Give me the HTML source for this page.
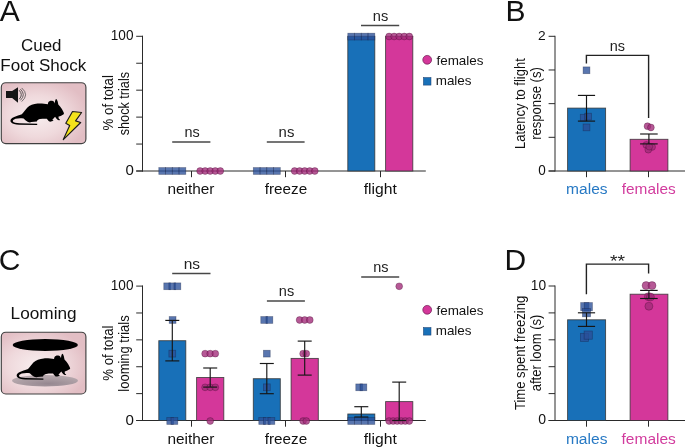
<!DOCTYPE html>
<html><head><meta charset="utf-8"><title>Figure</title>
<style>
html,body{margin:0;padding:0;background:#fff;}
body{width:685px;height:447px;overflow:hidden;}
svg{display:block;font-family:"Liberation Sans", sans-serif;will-change:transform;}
</style></head>
<body>
<svg width="685" height="447" viewBox="0 0 685 447" font-family="Liberation Sans, sans-serif">
<rect width="685" height="447" fill="#fff"/>
<text x="-0.3" y="20.9" font-size="30" text-anchor="start" fill="#111" >A</text>
<text x="505.5" y="20.8" font-size="30" text-anchor="start" fill="#111" >B</text>
<text x="-1.3" y="270.3" font-size="30" text-anchor="start" fill="#111" >C</text>
<text x="504.4" y="270.3" font-size="30" text-anchor="start" fill="#111" >D</text>
<text x="21.05" y="50.6" font-size="16" fill="#111" textLength="40.45" lengthAdjust="spacingAndGlyphs">Cued</text>
<text x="0.3" y="70.7" font-size="16" fill="#111" textLength="85.96" lengthAdjust="spacingAndGlyphs">Foot Shock</text>
<text x="10.6" y="319.1" font-size="16" fill="#111" textLength="66.0" lengthAdjust="spacingAndGlyphs">Looming</text>
<defs><radialGradient id="gA" cx="0.42" cy="0.55" r="0.62"><stop offset="0" stop-color="#f8eeef"/><stop offset="0.55" stop-color="#efd9dc"/><stop offset="1" stop-color="#e2bec4"/></radialGradient><radialGradient id="gS" cx="0.55" cy="0.75" r="0.6"><stop offset="0" stop-color="#958790"/><stop offset="1" stop-color="#b4a6ab"/></radialGradient></defs>
<rect x="1.3" y="82.7" width="84.6" height="60.90" rx="4.5" fill="url(#gA)" stroke="#404040" stroke-width="1.15"/>
<path d="M6 91.1 H12.1 L18 87.2 V102.7 L12.1 98 H6 Z" fill="#151515"/>
<path d="M19.2 90.25 Q23.40 94.75 19.2 99.25" fill="none" stroke="#3a3a3a" stroke-opacity="0.95" stroke-width="0.9"/>
<path d="M20.4 89.15 Q26.20 94.75 20.4 100.35" fill="none" stroke="#3a3a3a" stroke-opacity="0.85" stroke-width="0.9"/>
<path d="M21.7 87.95 Q29.50 94.75 21.7 101.55" fill="none" stroke="#3a3a3a" stroke-opacity="0.75" stroke-width="0.9"/>
<path d="M63.9 113.1 C63.1 110.8 61.2 107.8 58.3 104.6 L57.7 101.6 C57.3 100.1 56.7 99 56 98.9 C55.3 99.6 54.9 101.5 54.8 103.4 C54.4 102 53.4 101 52 100.8 C50.4 100.6 48.7 101.3 48.2 102.5 C48 103.1 48 103.7 47.8 104.2 C45 103.7 41 103.4 37.5 103.6 C33.5 103.9 29.6 105.4 27.2 107.8 C25.6 109.5 24 112 21.8 114.2 C19.4 115.2 15.4 116.3 12.6 117.8 C10.6 118.9 10 120.8 10.8 122 C12 123.8 15.5 124.6 19 124.7 L37.2 124.9 L37.2 123.7 L19.5 123.3 C16.2 123.1 13.6 122.6 12.9 121.5 C12.5 120.6 13.4 119.6 15.5 118.8 C18 118.1 21 118 23.6 118.5 C25 120 26.4 121.3 28 122 C29.2 122.6 30.6 122.5 31.3 122.1 L36.9 121.6 L37 121 C37.6 120.2 38.6 119.4 40 119.1 C42.5 118.7 45 118.6 46.8 118.8 C47.6 119.6 48.4 121 49.4 121.6 C50.4 122.1 52.4 121.3 53.6 120.6 C53.4 120.2 52.8 120 52.2 120 C53.2 119 54.3 117.8 55.1 116.8 C55.6 117.6 56.2 118.5 57 119.3 C57.8 120.2 59 120.5 59.9 120.1 C60.2 119.7 59.8 119.3 59.1 119.1 C58.6 118.6 58.4 117.6 58.6 116.6 C60.3 116.1 62.2 115.2 63.4 114.4 C63.9 114 64.1 113.6 63.9 113.1 Z" fill="#000"/>
<path d="M72.5 111.5 L81.6 112.5 L75.6 120.9 L80.7 122.5 L63.3 139.6 L69.7 125.6 L65.8 123.3 Z" fill="#f4e21c" stroke="#1a1a1a" stroke-width="1.15" stroke-linejoin="round"/>
<rect x="1.3" y="332.2" width="84.6" height="61.80" rx="4.5" fill="url(#gA)" stroke="#404040" stroke-width="1.15"/>
<ellipse cx="45" cy="380.8" rx="33" ry="5.7" fill="url(#gS)"/>
<ellipse cx="45.3" cy="345" rx="32.6" ry="5.9" fill="#000"/>
<path d="M63.9 113.1 C63.1 110.8 61.2 107.8 58.3 104.6 L57.7 101.6 C57.3 100.1 56.7 99 56 98.9 C55.3 99.6 54.9 101.5 54.8 103.4 C54.4 102 53.4 101 52 100.8 C50.4 100.6 48.7 101.3 48.2 102.5 C48 103.1 48 103.7 47.8 104.2 C45 103.7 41 103.4 37.5 103.6 C33.5 103.9 29.6 105.4 27.2 107.8 C25.6 109.5 24 112 21.8 114.2 C19.4 115.2 15.4 116.3 12.6 117.8 C10.6 118.9 10 120.8 10.8 122 C12 123.8 15.5 124.6 19 124.7 L37.2 124.9 L37.2 123.7 L19.5 123.3 C16.2 123.1 13.6 122.6 12.9 121.5 C12.5 120.6 13.4 119.6 15.5 118.8 C18 118.1 21 118 23.6 118.5 C25 120 26.4 121.3 28 122 C29.2 122.6 30.6 122.5 31.3 122.1 L36.9 121.6 L37 121 C37.6 120.2 38.6 119.4 40 119.1 C42.5 118.7 45 118.6 46.8 118.8 C47.6 119.6 48.4 121 49.4 121.6 C50.4 122.1 52.4 121.3 53.6 120.6 C53.4 120.2 52.8 120 52.2 120 C53.2 119 54.3 117.8 55.1 116.8 C55.6 117.6 56.2 118.5 57 119.3 C57.8 120.2 59 120.5 59.9 120.1 C60.2 119.7 59.8 119.3 59.1 119.1 C58.6 118.6 58.4 117.6 58.6 116.6 C60.3 116.1 62.2 115.2 63.4 114.4 C63.9 114 64.1 113.6 63.9 113.1 Z" fill="#000" transform="translate(6.2 254.8)"/>
<line x1="142.5" y1="35.8" x2="142.5" y2="171.5" stroke="#2a2a2a" stroke-width="1.0"/>
<line x1="136.2" y1="36.3" x2="143" y2="36.3" stroke="#2a2a2a" stroke-width="1.0"/>
<line x1="136.2" y1="63.239999999999995" x2="143" y2="63.239999999999995" stroke="#2a2a2a" stroke-width="1.0"/>
<line x1="136.2" y1="90.17999999999999" x2="143" y2="90.17999999999999" stroke="#2a2a2a" stroke-width="1.0"/>
<line x1="136.2" y1="117.11999999999999" x2="143" y2="117.11999999999999" stroke="#2a2a2a" stroke-width="1.0"/>
<line x1="136.2" y1="144.06" x2="143" y2="144.06" stroke="#2a2a2a" stroke-width="1.0"/>
<line x1="136.2" y1="171.0" x2="143" y2="171.0" stroke="#2a2a2a" stroke-width="1.0"/>
<line x1="136.2" y1="171" x2="425.8" y2="171" stroke="#2a2a2a" stroke-width="1.0"/>
<line x1="191.5" y1="171" x2="191.5" y2="177.2" stroke="#2a2a2a" stroke-width="1.0"/>
<line x1="285.5" y1="171" x2="285.5" y2="177.2" stroke="#2a2a2a" stroke-width="1.0"/>
<line x1="380.5" y1="171" x2="380.5" y2="177.2" stroke="#2a2a2a" stroke-width="1.0"/>
<text x="110.8" y="39.95" font-size="13.85" fill="#111" textLength="22.73" lengthAdjust="spacingAndGlyphs">100</text>
<text x="125.5" y="175.25" font-size="14.34" fill="#111" textLength="8.37" lengthAdjust="spacingAndGlyphs">0</text>
<text transform="translate(112.6 130.4) rotate(-90)" font-size="14.8" fill="#111" textLength="55.24" lengthAdjust="spacingAndGlyphs">% of total</text>
<text transform="translate(129.0 135.3) rotate(-90)" font-size="14.8" fill="#111" textLength="63.37" lengthAdjust="spacingAndGlyphs">shock trials</text>
<text x="167.4" y="194.2" font-size="15" fill="#111" textLength="47.05" lengthAdjust="spacingAndGlyphs">neither</text>
<text x="264.75" y="194.2" font-size="15" fill="#111" textLength="42.47" lengthAdjust="spacingAndGlyphs">freeze</text>
<text x="363.75" y="194.2" font-size="15" fill="#111" textLength="33.16" lengthAdjust="spacingAndGlyphs">flight</text>
<rect x="158.80" y="167.60" width="6.8" height="6.8" fill="#2a4f98" fill-opacity="0.78" stroke="#142040" stroke-opacity="0.45" stroke-width="0.7"/>
<rect x="165.53" y="167.60" width="6.8" height="6.8" fill="#2a4f98" fill-opacity="0.78" stroke="#142040" stroke-opacity="0.45" stroke-width="0.7"/>
<rect x="172.27" y="167.60" width="6.8" height="6.8" fill="#2a4f98" fill-opacity="0.78" stroke="#142040" stroke-opacity="0.45" stroke-width="0.7"/>
<rect x="179.00" y="167.60" width="6.8" height="6.8" fill="#2a4f98" fill-opacity="0.78" stroke="#142040" stroke-opacity="0.45" stroke-width="0.7"/>
<circle cx="200.10" cy="171.00" r="3.4" fill="#a22a78" fill-opacity="0.78" stroke="#400a2c" stroke-opacity="0.45" stroke-width="0.7"/>
<circle cx="205.15" cy="171.00" r="3.4" fill="#a22a78" fill-opacity="0.78" stroke="#400a2c" stroke-opacity="0.45" stroke-width="0.7"/>
<circle cx="210.20" cy="171.00" r="3.4" fill="#a22a78" fill-opacity="0.78" stroke="#400a2c" stroke-opacity="0.45" stroke-width="0.7"/>
<circle cx="215.25" cy="171.00" r="3.4" fill="#a22a78" fill-opacity="0.78" stroke="#400a2c" stroke-opacity="0.45" stroke-width="0.7"/>
<circle cx="220.30" cy="171.00" r="3.4" fill="#a22a78" fill-opacity="0.78" stroke="#400a2c" stroke-opacity="0.45" stroke-width="0.7"/>
<rect x="253.30" y="167.60" width="6.8" height="6.8" fill="#2a4f98" fill-opacity="0.78" stroke="#142040" stroke-opacity="0.45" stroke-width="0.7"/>
<rect x="260.03" y="167.60" width="6.8" height="6.8" fill="#2a4f98" fill-opacity="0.78" stroke="#142040" stroke-opacity="0.45" stroke-width="0.7"/>
<rect x="266.77" y="167.60" width="6.8" height="6.8" fill="#2a4f98" fill-opacity="0.78" stroke="#142040" stroke-opacity="0.45" stroke-width="0.7"/>
<rect x="273.50" y="167.60" width="6.8" height="6.8" fill="#2a4f98" fill-opacity="0.78" stroke="#142040" stroke-opacity="0.45" stroke-width="0.7"/>
<circle cx="294.60" cy="171.00" r="3.4" fill="#a22a78" fill-opacity="0.78" stroke="#400a2c" stroke-opacity="0.45" stroke-width="0.7"/>
<circle cx="299.65" cy="171.00" r="3.4" fill="#a22a78" fill-opacity="0.78" stroke="#400a2c" stroke-opacity="0.45" stroke-width="0.7"/>
<circle cx="304.70" cy="171.00" r="3.4" fill="#a22a78" fill-opacity="0.78" stroke="#400a2c" stroke-opacity="0.45" stroke-width="0.7"/>
<circle cx="309.75" cy="171.00" r="3.4" fill="#a22a78" fill-opacity="0.78" stroke="#400a2c" stroke-opacity="0.45" stroke-width="0.7"/>
<circle cx="314.80" cy="171.00" r="3.4" fill="#a22a78" fill-opacity="0.78" stroke="#400a2c" stroke-opacity="0.45" stroke-width="0.7"/>
<rect x="347.8" y="36.3" width="27.00" height="134.70" fill="#1870b8" stroke="#333" stroke-opacity="0.85" stroke-width="0.9"/>
<rect x="385.59999999999997" y="36.3" width="27.20" height="134.70" fill="#d4379a" stroke="#333" stroke-opacity="0.85" stroke-width="0.9"/>
<rect x="347.80" y="33.20" width="6.8" height="6.8" fill="#2a4f98" fill-opacity="0.78" stroke="#142040" stroke-opacity="0.45" stroke-width="0.7"/>
<rect x="354.53" y="33.20" width="6.8" height="6.8" fill="#2a4f98" fill-opacity="0.78" stroke="#142040" stroke-opacity="0.45" stroke-width="0.7"/>
<rect x="361.27" y="33.20" width="6.8" height="6.8" fill="#2a4f98" fill-opacity="0.78" stroke="#142040" stroke-opacity="0.45" stroke-width="0.7"/>
<rect x="368.00" y="33.20" width="6.8" height="6.8" fill="#2a4f98" fill-opacity="0.78" stroke="#142040" stroke-opacity="0.45" stroke-width="0.7"/>
<circle cx="389.10" cy="36.50" r="3.4" fill="#a22a78" fill-opacity="0.78" stroke="#400a2c" stroke-opacity="0.45" stroke-width="0.7"/>
<circle cx="394.15" cy="36.50" r="3.4" fill="#a22a78" fill-opacity="0.78" stroke="#400a2c" stroke-opacity="0.45" stroke-width="0.7"/>
<circle cx="399.20" cy="36.50" r="3.4" fill="#a22a78" fill-opacity="0.78" stroke="#400a2c" stroke-opacity="0.45" stroke-width="0.7"/>
<circle cx="404.25" cy="36.50" r="3.4" fill="#a22a78" fill-opacity="0.78" stroke="#400a2c" stroke-opacity="0.45" stroke-width="0.7"/>
<circle cx="409.30" cy="36.50" r="3.4" fill="#a22a78" fill-opacity="0.78" stroke="#400a2c" stroke-opacity="0.45" stroke-width="0.7"/>
<line x1="172.2" y1="142" x2="210.4" y2="142" stroke="#474747" stroke-width="1.5"/>
<text x="184.4" y="137.35" font-size="13.79" fill="#222" textLength="15.24" lengthAdjust="spacingAndGlyphs">ns</text>
<line x1="266.8" y1="142" x2="304.6" y2="142" stroke="#474747" stroke-width="1.5"/>
<text x="278.6" y="137.35" font-size="13.79" fill="#222" textLength="15.74" lengthAdjust="spacingAndGlyphs">ns</text>
<line x1="361" y1="25.4" x2="399.2" y2="25.4" stroke="#474747" stroke-width="1.5"/>
<text x="372.8" y="20.55" font-size="13.79" fill="#222" textLength="15.41" lengthAdjust="spacingAndGlyphs">ns</text>
<circle cx="427.2" cy="59.8" r="4.4" fill="#d4379a" stroke="#6a1a50" stroke-width="0.7"/>
<rect x="423.4" y="77.5" width="7.6" height="7.6" fill="#1870b8" stroke="#1a3a6a" stroke-width="0.5"/>
<text x="436.45" y="64.6" font-size="13.2" fill="#111" textLength="47.1" lengthAdjust="spacingAndGlyphs">females</text>
<text x="435.7" y="85.2" font-size="13.2" fill="#111" textLength="35.87" lengthAdjust="spacingAndGlyphs">males</text>
<line x1="142.5" y1="285.6" x2="142.5" y2="421.0" stroke="#2a2a2a" stroke-width="1.0"/>
<line x1="136.2" y1="286.1" x2="143" y2="286.1" stroke="#2a2a2a" stroke-width="1.0"/>
<line x1="136.2" y1="312.98" x2="143" y2="312.98" stroke="#2a2a2a" stroke-width="1.0"/>
<line x1="136.2" y1="339.86" x2="143" y2="339.86" stroke="#2a2a2a" stroke-width="1.0"/>
<line x1="136.2" y1="366.74" x2="143" y2="366.74" stroke="#2a2a2a" stroke-width="1.0"/>
<line x1="136.2" y1="393.62" x2="143" y2="393.62" stroke="#2a2a2a" stroke-width="1.0"/>
<line x1="136.2" y1="420.5" x2="143" y2="420.5" stroke="#2a2a2a" stroke-width="1.0"/>
<line x1="136.2" y1="420.5" x2="425.8" y2="420.5" stroke="#2a2a2a" stroke-width="1.0"/>
<line x1="191.5" y1="420.5" x2="191.5" y2="426.7" stroke="#2a2a2a" stroke-width="1.0"/>
<line x1="285.5" y1="420.5" x2="285.5" y2="426.7" stroke="#2a2a2a" stroke-width="1.0"/>
<line x1="380.5" y1="420.5" x2="380.5" y2="426.7" stroke="#2a2a2a" stroke-width="1.0"/>
<text x="110.8" y="289.75" font-size="14.34" fill="#111" textLength="22.73" lengthAdjust="spacingAndGlyphs">100</text>
<text x="125.5" y="424.75" font-size="14.4" fill="#111" textLength="8.42" lengthAdjust="spacingAndGlyphs">0</text>
<text transform="translate(112.6 380.8) rotate(-90)" font-size="14.8" fill="#111" textLength="55.24" lengthAdjust="spacingAndGlyphs">% of total</text>
<text transform="translate(129.0 391.65) rotate(-90)" font-size="14.8" fill="#111" textLength="76.29" lengthAdjust="spacingAndGlyphs">looming trials</text>
<text x="167.4" y="443.7" font-size="15" fill="#111" textLength="47.05" lengthAdjust="spacingAndGlyphs">neither</text>
<text x="264.75" y="443.7" font-size="15" fill="#111" textLength="42.47" lengthAdjust="spacingAndGlyphs">freeze</text>
<text x="363.75" y="443.7" font-size="15" fill="#111" textLength="33.16" lengthAdjust="spacingAndGlyphs">flight</text>
<rect x="158.8" y="340.7" width="27.00" height="79.80" fill="#1870b8" stroke="#333" stroke-opacity="0.85" stroke-width="0.9"/>
<rect x="196.6" y="377.5" width="27.20" height="43.00" fill="#d4379a" stroke="#333" stroke-opacity="0.85" stroke-width="0.9"/>
<rect x="163.80" y="282.90" width="6.8" height="6.8" fill="#2a4f98" fill-opacity="0.78" stroke="#142040" stroke-opacity="0.45" stroke-width="0.7"/>
<rect x="168.90" y="282.90" width="6.8" height="6.8" fill="#2a4f98" fill-opacity="0.78" stroke="#142040" stroke-opacity="0.45" stroke-width="0.7"/>
<rect x="174.00" y="282.90" width="6.8" height="6.8" fill="#2a4f98" fill-opacity="0.78" stroke="#142040" stroke-opacity="0.45" stroke-width="0.7"/>
<rect x="169.20" y="316.58" width="6.8" height="6.8" fill="#2a4f98" fill-opacity="0.78" stroke="#142040" stroke-opacity="0.45" stroke-width="0.7"/>
<rect x="168.90" y="350.25" width="6.8" height="6.8" fill="#2a4f98" fill-opacity="0.78" stroke="#142040" stroke-opacity="0.45" stroke-width="0.7"/>
<rect x="166.80" y="417.60" width="6.8" height="6.8" fill="#2a4f98" fill-opacity="0.78" stroke="#142040" stroke-opacity="0.45" stroke-width="0.7"/>
<rect x="171.00" y="417.60" width="6.8" height="6.8" fill="#2a4f98" fill-opacity="0.78" stroke="#142040" stroke-opacity="0.45" stroke-width="0.7"/>
<circle cx="205.10" cy="353.65" r="3.4" fill="#a22a78" fill-opacity="0.78" stroke="#400a2c" stroke-opacity="0.45" stroke-width="0.7"/>
<circle cx="210.20" cy="353.65" r="3.4" fill="#a22a78" fill-opacity="0.78" stroke="#400a2c" stroke-opacity="0.45" stroke-width="0.7"/>
<circle cx="215.30" cy="353.65" r="3.4" fill="#a22a78" fill-opacity="0.78" stroke="#400a2c" stroke-opacity="0.45" stroke-width="0.7"/>
<circle cx="205.10" cy="387.32" r="3.4" fill="#a22a78" fill-opacity="0.78" stroke="#400a2c" stroke-opacity="0.45" stroke-width="0.7"/>
<circle cx="210.20" cy="387.32" r="3.4" fill="#a22a78" fill-opacity="0.78" stroke="#400a2c" stroke-opacity="0.45" stroke-width="0.7"/>
<circle cx="215.30" cy="387.32" r="3.4" fill="#a22a78" fill-opacity="0.78" stroke="#400a2c" stroke-opacity="0.45" stroke-width="0.7"/>
<circle cx="210.20" cy="421.00" r="3.4" fill="#a22a78" fill-opacity="0.78" stroke="#400a2c" stroke-opacity="0.45" stroke-width="0.7"/>
<line x1="172.3" y1="320.4" x2="172.3" y2="360.9" stroke="#161616" stroke-width="1.15"/>
<line x1="165.3" y1="320.4" x2="179.3" y2="320.4" stroke="#161616" stroke-width="1.15"/>
<line x1="165.3" y1="360.9" x2="179.3" y2="360.9" stroke="#161616" stroke-width="1.15"/>
<line x1="210.2" y1="368" x2="210.2" y2="387.1" stroke="#161616" stroke-width="1.15"/>
<line x1="203.2" y1="368" x2="217.2" y2="368" stroke="#161616" stroke-width="1.15"/>
<line x1="203.2" y1="387.1" x2="217.2" y2="387.1" stroke="#161616" stroke-width="1.15"/>
<rect x="253.3" y="378.7" width="27.00" height="41.80" fill="#1870b8" stroke="#333" stroke-opacity="0.85" stroke-width="0.9"/>
<rect x="291.09999999999997" y="358.4" width="27.20" height="62.10" fill="#d4379a" stroke="#333" stroke-opacity="0.85" stroke-width="0.9"/>
<rect x="260.80" y="316.58" width="6.8" height="6.8" fill="#2a4f98" fill-opacity="0.78" stroke="#142040" stroke-opacity="0.45" stroke-width="0.7"/>
<rect x="266.00" y="316.58" width="6.8" height="6.8" fill="#2a4f98" fill-opacity="0.78" stroke="#142040" stroke-opacity="0.45" stroke-width="0.7"/>
<rect x="263.40" y="350.25" width="6.8" height="6.8" fill="#2a4f98" fill-opacity="0.78" stroke="#142040" stroke-opacity="0.45" stroke-width="0.7"/>
<rect x="263.40" y="383.93" width="6.8" height="6.8" fill="#2a4f98" fill-opacity="0.78" stroke="#142040" stroke-opacity="0.45" stroke-width="0.7"/>
<rect x="258.80" y="417.60" width="6.8" height="6.8" fill="#2a4f98" fill-opacity="0.78" stroke="#142040" stroke-opacity="0.45" stroke-width="0.7"/>
<rect x="263.40" y="417.60" width="6.8" height="6.8" fill="#2a4f98" fill-opacity="0.78" stroke="#142040" stroke-opacity="0.45" stroke-width="0.7"/>
<rect x="268.00" y="417.60" width="6.8" height="6.8" fill="#2a4f98" fill-opacity="0.78" stroke="#142040" stroke-opacity="0.45" stroke-width="0.7"/>
<circle cx="299.60" cy="319.98" r="3.4" fill="#a22a78" fill-opacity="0.78" stroke="#400a2c" stroke-opacity="0.45" stroke-width="0.7"/>
<circle cx="304.70" cy="319.98" r="3.4" fill="#a22a78" fill-opacity="0.78" stroke="#400a2c" stroke-opacity="0.45" stroke-width="0.7"/>
<circle cx="309.80" cy="319.98" r="3.4" fill="#a22a78" fill-opacity="0.78" stroke="#400a2c" stroke-opacity="0.45" stroke-width="0.7"/>
<circle cx="303.10" cy="353.65" r="3.4" fill="#a22a78" fill-opacity="0.78" stroke="#400a2c" stroke-opacity="0.45" stroke-width="0.7"/>
<circle cx="306.30" cy="353.65" r="3.4" fill="#a22a78" fill-opacity="0.78" stroke="#400a2c" stroke-opacity="0.45" stroke-width="0.7"/>
<circle cx="303.10" cy="421.00" r="3.4" fill="#a22a78" fill-opacity="0.78" stroke="#400a2c" stroke-opacity="0.45" stroke-width="0.7"/>
<circle cx="306.30" cy="421.00" r="3.4" fill="#a22a78" fill-opacity="0.78" stroke="#400a2c" stroke-opacity="0.45" stroke-width="0.7"/>
<line x1="266.8" y1="363.5" x2="266.8" y2="393.7" stroke="#161616" stroke-width="1.15"/>
<line x1="259.8" y1="363.5" x2="273.8" y2="363.5" stroke="#161616" stroke-width="1.15"/>
<line x1="259.8" y1="393.7" x2="273.8" y2="393.7" stroke="#161616" stroke-width="1.15"/>
<line x1="304.7" y1="341.1" x2="304.7" y2="375.1" stroke="#161616" stroke-width="1.15"/>
<line x1="297.7" y1="341.1" x2="311.7" y2="341.1" stroke="#161616" stroke-width="1.15"/>
<line x1="297.7" y1="375.1" x2="311.7" y2="375.1" stroke="#161616" stroke-width="1.15"/>
<rect x="347.8" y="414.0" width="27.00" height="6.50" fill="#1870b8" stroke="#333" stroke-opacity="0.85" stroke-width="0.9"/>
<rect x="385.59999999999997" y="401.6" width="27.20" height="18.90" fill="#d4379a" stroke="#333" stroke-opacity="0.85" stroke-width="0.9"/>
<rect x="355.80" y="383.93" width="6.8" height="6.8" fill="#2a4f98" fill-opacity="0.78" stroke="#142040" stroke-opacity="0.45" stroke-width="0.7"/>
<rect x="360.00" y="383.93" width="6.8" height="6.8" fill="#2a4f98" fill-opacity="0.78" stroke="#142040" stroke-opacity="0.45" stroke-width="0.7"/>
<rect x="347.80" y="417.60" width="6.8" height="6.8" fill="#2a4f98" fill-opacity="0.78" stroke="#142040" stroke-opacity="0.45" stroke-width="0.7"/>
<rect x="354.53" y="417.60" width="6.8" height="6.8" fill="#2a4f98" fill-opacity="0.78" stroke="#142040" stroke-opacity="0.45" stroke-width="0.7"/>
<rect x="361.27" y="417.60" width="6.8" height="6.8" fill="#2a4f98" fill-opacity="0.78" stroke="#142040" stroke-opacity="0.45" stroke-width="0.7"/>
<rect x="368.00" y="417.60" width="6.8" height="6.8" fill="#2a4f98" fill-opacity="0.78" stroke="#142040" stroke-opacity="0.45" stroke-width="0.7"/>
<circle cx="399.20" cy="286.30" r="3.4" fill="#a22a78" fill-opacity="0.78" stroke="#400a2c" stroke-opacity="0.45" stroke-width="0.7"/>
<circle cx="389.10" cy="421.00" r="3.4" fill="#a22a78" fill-opacity="0.78" stroke="#400a2c" stroke-opacity="0.45" stroke-width="0.7"/>
<circle cx="393.14" cy="421.00" r="3.4" fill="#a22a78" fill-opacity="0.78" stroke="#400a2c" stroke-opacity="0.45" stroke-width="0.7"/>
<circle cx="397.18" cy="421.00" r="3.4" fill="#a22a78" fill-opacity="0.78" stroke="#400a2c" stroke-opacity="0.45" stroke-width="0.7"/>
<circle cx="401.22" cy="421.00" r="3.4" fill="#a22a78" fill-opacity="0.78" stroke="#400a2c" stroke-opacity="0.45" stroke-width="0.7"/>
<circle cx="405.26" cy="421.00" r="3.4" fill="#a22a78" fill-opacity="0.78" stroke="#400a2c" stroke-opacity="0.45" stroke-width="0.7"/>
<circle cx="409.30" cy="421.00" r="3.4" fill="#a22a78" fill-opacity="0.78" stroke="#400a2c" stroke-opacity="0.45" stroke-width="0.7"/>
<line x1="361.3" y1="406.7" x2="361.3" y2="417.0" stroke="#161616" stroke-width="1.15"/>
<line x1="354.3" y1="406.7" x2="368.3" y2="406.7" stroke="#161616" stroke-width="1.15"/>
<line x1="354.3" y1="417.0" x2="368.3" y2="417.0" stroke="#161616" stroke-width="1.15"/>
<line x1="399.2" y1="382.1" x2="399.2" y2="420.5" stroke="#161616" stroke-width="1.15"/>
<line x1="392.2" y1="382.1" x2="406.2" y2="382.1" stroke="#161616" stroke-width="1.15"/>
<line x1="392.2" y1="420.5" x2="406.2" y2="420.5" stroke="#161616" stroke-width="1.15"/>
<line x1="172.2" y1="273.5" x2="210.5" y2="273.5" stroke="#474747" stroke-width="1.5"/>
<text x="183.7" y="268.85" font-size="13.79" fill="#222" textLength="16.36" lengthAdjust="spacingAndGlyphs">ns</text>
<line x1="266.9" y1="301" x2="304.9" y2="301" stroke="#474747" stroke-width="1.5"/>
<text x="278.8" y="296.25" font-size="13.79" fill="#222" textLength="15.35" lengthAdjust="spacingAndGlyphs">ns</text>
<line x1="361.2" y1="277" x2="399.2" y2="277" stroke="#474747" stroke-width="1.5"/>
<text x="373.2" y="272.35" font-size="13.79" fill="#222" textLength="15.29" lengthAdjust="spacingAndGlyphs">ns</text>
<circle cx="427.2" cy="309.8" r="4.4" fill="#d4379a" stroke="#6a1a50" stroke-width="0.7"/>
<rect x="423.4" y="327.5" width="7.6" height="7.6" fill="#1870b8" stroke="#1a3a6a" stroke-width="0.5"/>
<text x="436.45" y="314.6" font-size="13.2" fill="#111" textLength="47.1" lengthAdjust="spacingAndGlyphs">females</text>
<text x="435.7" y="335.2" font-size="13.2" fill="#111" textLength="35.87" lengthAdjust="spacingAndGlyphs">males</text>
<line x1="555" y1="35.8" x2="555" y2="171.5" stroke="#2a2a2a" stroke-width="1.0"/>
<line x1="548.6" y1="36.3" x2="555" y2="36.3" stroke="#2a2a2a" stroke-width="1.0"/>
<line x1="548.6" y1="69.975" x2="555" y2="69.975" stroke="#2a2a2a" stroke-width="1.0"/>
<line x1="548.6" y1="103.64999999999999" x2="555" y2="103.64999999999999" stroke="#2a2a2a" stroke-width="1.0"/>
<line x1="548.6" y1="137.325" x2="555" y2="137.325" stroke="#2a2a2a" stroke-width="1.0"/>
<line x1="548.6" y1="171.0" x2="555" y2="171.0" stroke="#2a2a2a" stroke-width="1.0"/>
<line x1="548.6" y1="171" x2="685" y2="171" stroke="#2a2a2a" stroke-width="1.0"/>
<line x1="586.5" y1="171" x2="586.5" y2="177.2" stroke="#2a2a2a" stroke-width="1.0"/>
<line x1="648.5" y1="171" x2="648.5" y2="177.2" stroke="#2a2a2a" stroke-width="1.0"/>
<text x="537.95" y="39.7" font-size="13.43" fill="#111" textLength="7.66" lengthAdjust="spacingAndGlyphs">2</text>
<text x="538.2" y="174.55" font-size="13.92" fill="#111" textLength="7.51" lengthAdjust="spacingAndGlyphs">0</text>
<text transform="translate(524.8 149.0) rotate(-90)" font-size="14.5" fill="#111" textLength="90.74" lengthAdjust="spacingAndGlyphs">Latency to flight</text>
<text transform="translate(540.8 139.85) rotate(-90)" font-size="14.5" fill="#111" textLength="72.71" lengthAdjust="spacingAndGlyphs">response (s)</text>
<text x="566.1" y="193.65" font-size="14.49" fill="#2779c4" textLength="41.46" lengthAdjust="spacingAndGlyphs">males</text>
<text x="621.75" y="193.65" font-size="14.5" fill="#d23c9e" textLength="53.93" lengthAdjust="spacingAndGlyphs">females</text>
<rect x="567.6" y="108.1" width="38.00" height="62.90" fill="#1870b8" stroke="#333" stroke-opacity="0.85" stroke-width="0.9"/>
<rect x="630.1" y="139.3" width="37.80" height="31.70" fill="#d4379a" stroke="#333" stroke-opacity="0.85" stroke-width="0.9"/>
<rect x="583.10" y="66.90" width="6.8" height="6.8" fill="#2a4f98" fill-opacity="0.78" stroke="#142040" stroke-opacity="0.45" stroke-width="0.7"/>
<rect x="580.30" y="114.30" width="6.8" height="6.8" fill="#2a4f98" fill-opacity="0.78" stroke="#142040" stroke-opacity="0.45" stroke-width="0.7"/>
<rect x="584.70" y="113.20" width="6.8" height="6.8" fill="#2a4f98" fill-opacity="0.78" stroke="#142040" stroke-opacity="0.45" stroke-width="0.7"/>
<rect x="583.10" y="124.00" width="6.8" height="6.8" fill="#2a4f98" fill-opacity="0.78" stroke="#142040" stroke-opacity="0.45" stroke-width="0.7"/>
<circle cx="647.50" cy="126.20" r="3.4" fill="#a22a78" fill-opacity="0.78" stroke="#400a2c" stroke-opacity="0.45" stroke-width="0.7"/>
<circle cx="650.90" cy="127.50" r="3.4" fill="#a22a78" fill-opacity="0.78" stroke="#400a2c" stroke-opacity="0.45" stroke-width="0.7"/>
<circle cx="646.30" cy="145.00" r="3.4" fill="#a22a78" fill-opacity="0.78" stroke="#400a2c" stroke-opacity="0.45" stroke-width="0.7"/>
<circle cx="652.10" cy="147.00" r="3.4" fill="#a22a78" fill-opacity="0.78" stroke="#400a2c" stroke-opacity="0.45" stroke-width="0.7"/>
<circle cx="648.30" cy="149.70" r="3.4" fill="#a22a78" fill-opacity="0.78" stroke="#400a2c" stroke-opacity="0.45" stroke-width="0.7"/>
<circle cx="649.30" cy="146.60" r="3.4" fill="#a22a78" fill-opacity="0.78" stroke="#400a2c" stroke-opacity="0.45" stroke-width="0.7"/>
<line x1="586.5" y1="95.4" x2="586.5" y2="121.1" stroke="#161616" stroke-width="1.15"/>
<line x1="577.9" y1="95.4" x2="595.1" y2="95.4" stroke="#161616" stroke-width="1.15"/>
<line x1="577.9" y1="121.1" x2="595.1" y2="121.1" stroke="#161616" stroke-width="1.15"/>
<line x1="648.9" y1="134" x2="648.9" y2="143.9" stroke="#161616" stroke-width="1.15"/>
<line x1="640.1" y1="134" x2="657.6999999999999" y2="134" stroke="#161616" stroke-width="1.15"/>
<line x1="640.1" y1="143.9" x2="657.6999999999999" y2="143.9" stroke="#161616" stroke-width="1.15"/>
<path d="M586.4 63.5 V55.4 H648.6 V118.1" fill="none" stroke="#222" stroke-width="1.4"/>
<text x="609.8" y="50.55" font-size="13.79" fill="#222" textLength="15.29" lengthAdjust="spacingAndGlyphs">ns</text>
<line x1="555" y1="285.5" x2="555" y2="421.0" stroke="#2a2a2a" stroke-width="1.0"/>
<line x1="548.6" y1="286.0" x2="555" y2="286.0" stroke="#2a2a2a" stroke-width="1.0"/>
<line x1="548.6" y1="312.9" x2="555" y2="312.9" stroke="#2a2a2a" stroke-width="1.0"/>
<line x1="548.6" y1="339.8" x2="555" y2="339.8" stroke="#2a2a2a" stroke-width="1.0"/>
<line x1="548.6" y1="366.7" x2="555" y2="366.7" stroke="#2a2a2a" stroke-width="1.0"/>
<line x1="548.6" y1="393.6" x2="555" y2="393.6" stroke="#2a2a2a" stroke-width="1.0"/>
<line x1="548.6" y1="420.5" x2="555" y2="420.5" stroke="#2a2a2a" stroke-width="1.0"/>
<line x1="548.6" y1="420.5" x2="685" y2="420.5" stroke="#2a2a2a" stroke-width="1.0"/>
<line x1="586.5" y1="420.5" x2="586.5" y2="426.7" stroke="#2a2a2a" stroke-width="1.0"/>
<line x1="648.5" y1="420.5" x2="648.5" y2="426.7" stroke="#2a2a2a" stroke-width="1.0"/>
<text x="530.8" y="289.65" font-size="13.92" fill="#111" textLength="15.31" lengthAdjust="spacingAndGlyphs">10</text>
<text x="538.2" y="424.05" font-size="13.85" fill="#111" textLength="7.82" lengthAdjust="spacingAndGlyphs">0</text>
<text transform="translate(525.2 410.05) rotate(-90)" font-size="14.5" fill="#111" textLength="114.23" lengthAdjust="spacingAndGlyphs">Time spent freezing</text>
<text transform="translate(540.8 391.3) rotate(-90)" font-size="14.5" fill="#111" textLength="76.68" lengthAdjust="spacingAndGlyphs">after loom (s)</text>
<text x="565.9" y="443.65" font-size="15.03" fill="#2779c4" textLength="41.57" lengthAdjust="spacingAndGlyphs">males</text>
<text x="621.55" y="443.65" font-size="15.0" fill="#d23c9e" textLength="54.31" lengthAdjust="spacingAndGlyphs">females</text>
<rect x="567.6" y="319.8" width="38.00" height="100.70" fill="#1870b8" stroke="#333" stroke-opacity="0.85" stroke-width="0.9"/>
<rect x="630.1" y="294.2" width="37.80" height="126.30" fill="#d4379a" stroke="#333" stroke-opacity="0.85" stroke-width="0.9"/>
<rect x="580.70" y="302.60" width="8.2" height="8.2" fill="#2a4f98" fill-opacity="0.78" stroke="#142040" stroke-opacity="0.45" stroke-width="0.7"/>
<rect x="584.20" y="302.60" width="8.2" height="8.2" fill="#2a4f98" fill-opacity="0.78" stroke="#142040" stroke-opacity="0.45" stroke-width="0.7"/>
<rect x="582.40" y="308.60" width="8.2" height="8.2" fill="#2a4f98" fill-opacity="0.78" stroke="#142040" stroke-opacity="0.45" stroke-width="0.7"/>
<rect x="580.40" y="333.30" width="8.2" height="8.2" fill="#2a4f98" fill-opacity="0.78" stroke="#142040" stroke-opacity="0.45" stroke-width="0.7"/>
<rect x="584.10" y="331.00" width="8.2" height="8.2" fill="#2a4f98" fill-opacity="0.78" stroke="#142040" stroke-opacity="0.45" stroke-width="0.7"/>
<circle cx="646.10" cy="285.60" r="4" fill="#a22a78" fill-opacity="0.78" stroke="#400a2c" stroke-opacity="0.45" stroke-width="0.7"/>
<circle cx="652.00" cy="285.60" r="4" fill="#a22a78" fill-opacity="0.78" stroke="#400a2c" stroke-opacity="0.45" stroke-width="0.7"/>
<circle cx="648.40" cy="296.70" r="4" fill="#a22a78" fill-opacity="0.78" stroke="#400a2c" stroke-opacity="0.45" stroke-width="0.7"/>
<circle cx="650.40" cy="297.00" r="4" fill="#a22a78" fill-opacity="0.78" stroke="#400a2c" stroke-opacity="0.45" stroke-width="0.7"/>
<circle cx="648.90" cy="306.20" r="4" fill="#a22a78" fill-opacity="0.78" stroke="#400a2c" stroke-opacity="0.45" stroke-width="0.7"/>
<line x1="586.5" y1="312.8" x2="586.5" y2="326.4" stroke="#161616" stroke-width="1.15"/>
<line x1="577.9" y1="312.8" x2="595.1" y2="312.8" stroke="#161616" stroke-width="1.15"/>
<line x1="577.9" y1="326.4" x2="595.1" y2="326.4" stroke="#161616" stroke-width="1.15"/>
<line x1="648.9" y1="290.4" x2="648.9" y2="298.5" stroke="#161616" stroke-width="1.15"/>
<line x1="640.1" y1="290.4" x2="657.6999999999999" y2="290.4" stroke="#161616" stroke-width="1.15"/>
<line x1="640.1" y1="298.5" x2="657.6999999999999" y2="298.5" stroke="#161616" stroke-width="1.15"/>
<path d="M586.4 294.3 V264.1 H648.6 V273.6" fill="none" stroke="#222" stroke-width="1.4"/>
<text x="610.05" y="266.5" font-size="16" fill="#222" textLength="15.05" lengthAdjust="spacingAndGlyphs">**</text>
</svg>
</body></html>
